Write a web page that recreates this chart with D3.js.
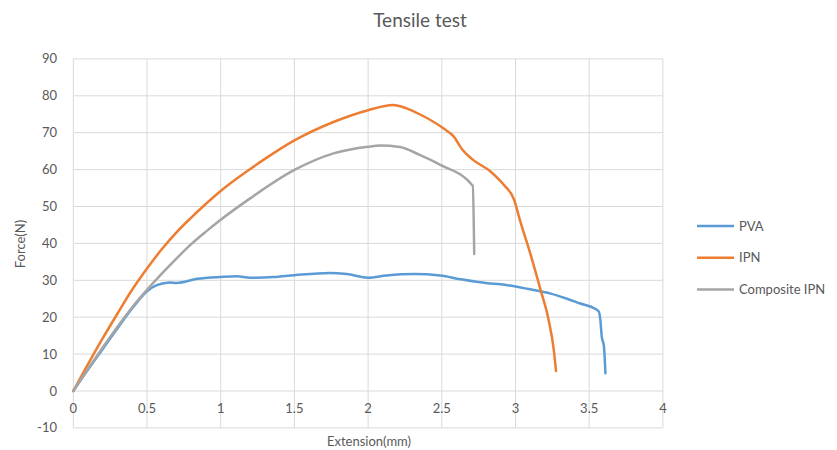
<!DOCTYPE html>
<html>
<head>
<meta charset="utf-8">
<script src="https://cdn.jsdelivr.net/npm/d3@7"></script>
<style>
  body { margin: 0; background: #fff; }
  text { font-family: Lato, "Open Sans", sans-serif; fill: #595959; }
</style>
</head>
<body>
<div id="chart"></div>
<script>
// values
var seriesNames = ["PVA", "IPN", "Composite IPN"];
var pvaX = [0, 0.1, 0.2, 0.3, 0.4, 0.5, 0.566, 0.656, 0.7, 0.84, 1.0, 1.11, 1.2, 1.36, 1.5, 1.74, 1.855, 2.0, 2.125, 2.31, 2.49, 2.625, 2.81, 2.9, 3.0, 3.08, 3.24, 3.35, 3.44, 3.54, 3.565, 3.575, 3.585, 3.6, 3.61];
var pvaY = [0, 5.8, 11.4, 17, 22.4, 27, 28.7, 29.4, 29.3, 30.4, 30.9, 31.1, 30.7, 30.9, 31.4, 32.0, 31.7, 30.7, 31.3, 31.7, 31.3, 30.3, 29.2, 28.9, 28.3, 27.7, 26.4, 25.0, 23.7, 22.3, 21.5, 19.5, 14.8, 12.1, 4.8];
var ipnX = [0, 0.1, 0.2, 0.3, 0.4, 0.5, 0.6, 0.7, 0.8, 0.88, 1.0, 1.1, 1.3, 1.5, 1.765, 2.0, 2.17, 2.26, 2.35, 2.51, 2.58, 2.64, 2.71, 2.83, 2.92, 2.99, 3.03, 3.1, 3.17, 3.225, 3.26, 3.275];
var ipnY = [0, 7.3, 14.3, 21, 27.5, 33.2, 38.4, 43.0, 47.0, 50.0, 54.2, 57.3, 62.9, 67.9, 72.9, 76.1, 77.5, 76.6, 75.0, 71.2, 69.0, 65.4, 62.7, 59.5, 55.9, 51.9, 46.3, 37.3, 27.4, 19.2, 11.1, 5.4];
var compX = [0, 0.1, 0.2, 0.3, 0.4, 0.5, 0.656, 0.8, 0.9, 1.0, 1.2, 1.5, 1.765, 2.0, 2.08, 2.215, 2.35, 2.49, 2.71, 2.72];
var compY = [0, 6, 11.8, 17.4, 22.7, 27.4, 34.1, 39.8, 43.2, 46.4, 52.2, 59.9, 64.4, 66.2, 66.5, 66.1, 64.0, 61.3, 55.6, 37.1];
var xTicks = [0, 0.5, 1, 1.5, 2, 2.5, 3, 3.5, 4];
var yTicks = [-10, 0, 10, 20, 30, 40, 50, 60, 70, 80, 90];
var colors = ["#5b9bd5", "#ed7d31", "#a5a5a5"];

var width = 837, height = 450;
var plotLeft = 73.3, plotRight = 662.9, plotTop = 58.9, plotBottom = 427.9;

var svg = d3.select("#chart").append("svg")
  .attr("width", width)
  .attr("height", height);

var x = d3.scaleLinear().domain([0, 4]).range([plotLeft, plotRight]);
var y = d3.scaleLinear().domain([-10, 90]).range([plotBottom, plotTop]);

// grid
svg.append("g").selectAll("line")
  .data(yTicks).enter().append("line")
  .attr("x1", plotLeft).attr("x2", plotRight)
  .attr("y1", function(d) { return y(d); }).attr("y2", function(d) { return y(d); })
  .attr("stroke", "#d9d9d9").attr("stroke-width", 1);
svg.append("g").selectAll("line")
  .data(xTicks).enter().append("line")
  .attr("y1", plotTop).attr("y2", plotBottom)
  .attr("x1", function(d) { return x(d); }).attr("x2", function(d) { return x(d); })
  .attr("stroke", "#d9d9d9").attr("stroke-width", 1);

// tick labels
svg.append("g").selectAll("text")
  .data(yTicks).enter().append("text")
  .attr("x", 57).attr("y", function(d) { return y(d); })
  .attr("dy", "0.35em")
  .attr("text-anchor", "end")
  .style("font-size", "13px")
  .text(function(d) { return d; });
svg.append("g").selectAll("text")
  .data(xTicks).enter().append("text")
  .attr("x", function(d) { return x(d); }).attr("y", y(0) + 22)
  .attr("text-anchor", "middle")
  .style("font-size", "13px")
  .text(function(d) { return d; });

// titles
svg.append("text").attr("x", 420).attr("y", 27)
  .attr("text-anchor", "middle").style("font-size", "19px")
  .text("Tensile test");
svg.append("text").attr("transform", "translate(25,244) rotate(-90)")
  .attr("text-anchor", "middle").style("font-size", "13px")
  .text("Force(N)");
svg.append("text").attr("x", 369).attr("y", 446)
  .attr("text-anchor", "middle").style("font-size", "13px")
  .text("Extension(mm)");

// series
var series = [
  d3.zip(pvaX, pvaY),
  d3.zip(ipnX, ipnY),
  d3.zip(compX, compY)
];
var line = d3.line()
  .x(function(d) { return x(d[0]); })
  .y(function(d) { return y(d[1]); })
  .curve(d3.curveMonotoneX);

svg.append("g").selectAll("path")
  .data(series).enter().append("path")
  .attr("d", line)
  .attr("fill", "none")
  .attr("stroke", function(d, i) { return colors[i]; })
  .attr("stroke-width", 2.5)
  .attr("stroke-linejoin", "round")
  .attr("stroke-linecap", "round");

// legend
var legend = svg.append("g").selectAll("g")
  .data(seriesNames).enter().append("g")
  .attr("transform", function(d, i) { return "translate(697," + (226 + i * 31.7) + ")"; });
legend.append("line")
  .attr("x1", 0).attr("x2", 37)
  .attr("stroke", function(d, i) { return colors[i]; })
  .attr("stroke-width", 2.5);
legend.append("text")
  .attr("x", 42).attr("dy", "0.35em")
  .style("font-size", "13px")
  .text(function(d) { return d; });
</script>
</body>
</html>
